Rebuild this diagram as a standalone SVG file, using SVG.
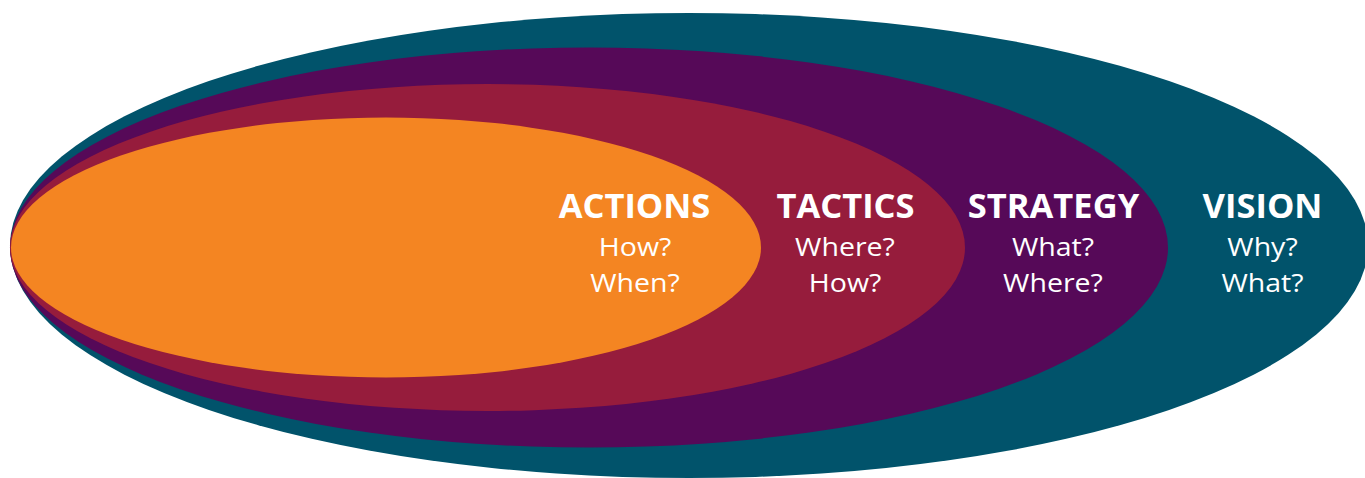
<svg xmlns="http://www.w3.org/2000/svg" width="1365" height="478" viewBox="0 0 1365 478">
  <style>
    .title { font-family: "Open Sans", "Liberation Sans", sans-serif; font-weight: 700; font-size: 34.5px; fill: #ffffff; text-anchor: middle; }
    .sub { font-family: "Open Sans", "Liberation Sans", sans-serif; font-weight: 400; font-size: 24.8px; fill: #ffffff; text-anchor: middle; }
  </style>
  <rect width="1365" height="478" fill="#ffffff"/>
  <!-- nested ellipses, outermost first -->
  <g id="vision">
    <ellipse cx="689" cy="245.5" rx="679" ry="232.5" fill="#01536b"/>
  </g>
  <g id="strategy">
    <ellipse cx="589" cy="247.5" rx="579" ry="200" fill="#560958"/>
  </g>
  <g id="tactics">
    <ellipse cx="487.5" cy="247.5" rx="477.5" ry="163.5" fill="#961c3c"/>
  </g>
  <g id="actions">
    <ellipse cx="386" cy="247.5" rx="375" ry="130" fill="#f48522"/>
  </g>
  <!-- labels: heading plus two question lines (questions set slightly wide) -->
  <g id="labels">
    <text class="title" x="634.5" y="218">ACTIONS</text>
    <g transform="translate(635,0) scale(1.15,1)">
      <text class="sub" x="0" y="256">How?</text>
      <text class="sub" x="0" y="292">When?</text>
    </g>

    <text class="title" x="845.5" y="218">TACTICS</text>
    <g transform="translate(845,0) scale(1.15,1)">
      <text class="sub" x="0" y="256">Where?</text>
      <text class="sub" x="0" y="292">How?</text>
    </g>

    <text class="title" x="1053.5" y="218">STRATEGY</text>
    <g transform="translate(1053,0) scale(1.15,1)">
      <text class="sub" x="0" y="256">What?</text>
      <text class="sub" x="0" y="292">Where?</text>
    </g>

    <text class="title" x="1262.5" y="218">VISION</text>
    <g transform="translate(1262.5,0) scale(1.15,1)">
      <text class="sub" x="0" y="256">Why?</text>
      <text class="sub" x="0" y="292">What?</text>
    </g>
  </g>
</svg>
